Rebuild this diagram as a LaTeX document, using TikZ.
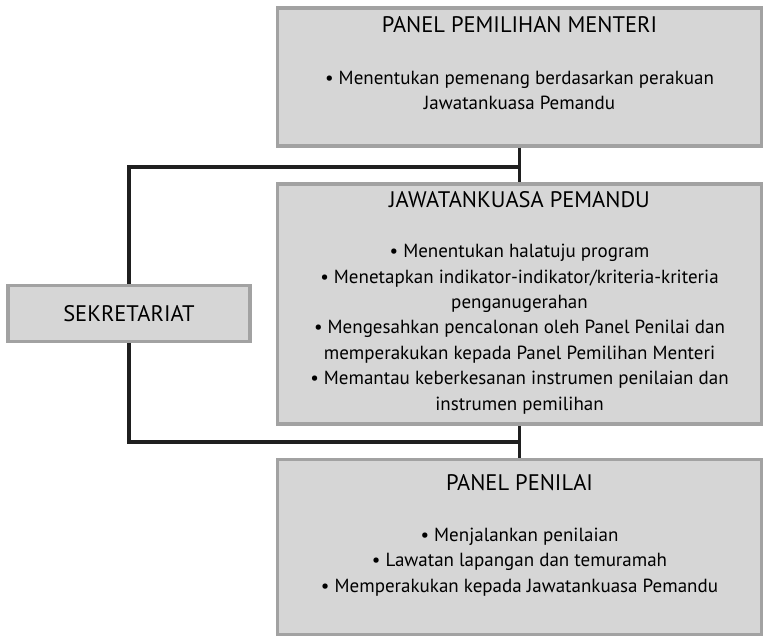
\documentclass[tikz,border=0pt]{standalone}
\usepackage{fontspec}
\setmainfont{PT Sans}
\usetikzlibrary{positioning,calc}
\definecolor{panelfill}{RGB}{214,214,214}
\definecolor{panelline}{RGB}{162,162,162}

\begin{document}
\begin{tikzpicture}[x=1pt, y=-1pt,
        font=\fontsize{19}{25.4}\selectfont,
        panel/.style={draw=panelline, fill=panelfill, line width=3.5pt,
                      minimum width=484pt, inner sep=0pt},
        sekbox/.style={draw=panelline, fill=panelfill, line width=3.5pt,
                       minimum width=242pt, minimum height=56pt, inner sep=0pt,
                       font=\fontsize{22.5}{26}\selectfont},
        head/.style={anchor=base, inner sep=0pt, font=\fontsize{22.5}{26}\selectfont},
        items/.style={anchor=base, align=center, inner sep=0pt},
        link/.style={line width=3.6pt, black!88}
    ]
    \useasboundingbox (0,0) rectangle (766,639);

    % ---- panels ----
    \node[panel, minimum height=138pt] (menteri) at (519.5,77) {};
    \node[panel, minimum height=240pt] (pemandu) at (519.5,304) {};
    \node[panel, minimum height=175pt] (penilai) at (519.5,547) {};
    \node[sekbox] (sekretariat) at (129,313.5) {SEKRETARIAT};

    % ---- panel texts (items placed at the baseline of their last line) ----
    \node[head] (menteri-t) at (519.5,33) {PANEL PEMILIHAN MENTERI};
    \node[items] (menteri-b) at (519.5,110)
        {• Menentukan pemenang berdasarkan perakuan\\Jawatankuasa Pemandu};

    \node[head] (pemandu-t) at (519.5,208) {JAWATANKUASA PEMANDU};
    \node[items] (pemandu-b) at (519.5,410)
        {• Menentukan halatuju program\\
         • Menetapkan indikator-indikator/kriteria-kriteria\\
         penganugerahan\\
         • Mengesahkan pencalonan oleh Panel Penilai dan\\
         memperakukan kepada Panel Pemilihan Menteri\\
         • Memantau keberkesanan instrumen penilaian dan\\
         instrumen pemilihan};

    \node[head] (penilai-t) at (519.5,490) {PANEL PENILAI};
    \node[items] (penilai-b) at (519.5,592)
        {• Menjalankan penilaian\\
         • Lawatan lapangan dan temuramah\\
         • Memperakukan kepada Jawatankuasa Pemandu};

    % ---- connectors ----
    \coordinate (jtop) at ($(menteri.south)!0.55!(pemandu.north)$);
    \coordinate (jbot) at ($(pemandu.south)!0.5!(penilai.north)$);
    \draw[link] (menteri.south) -- (pemandu.north);
    \draw[link] (pemandu.south) -- (penilai.north);
    \draw[link] (jtop) -| (sekretariat.north);
    \draw[link] (jbot) -| (sekretariat.south);
\end{tikzpicture}
\end{document}
